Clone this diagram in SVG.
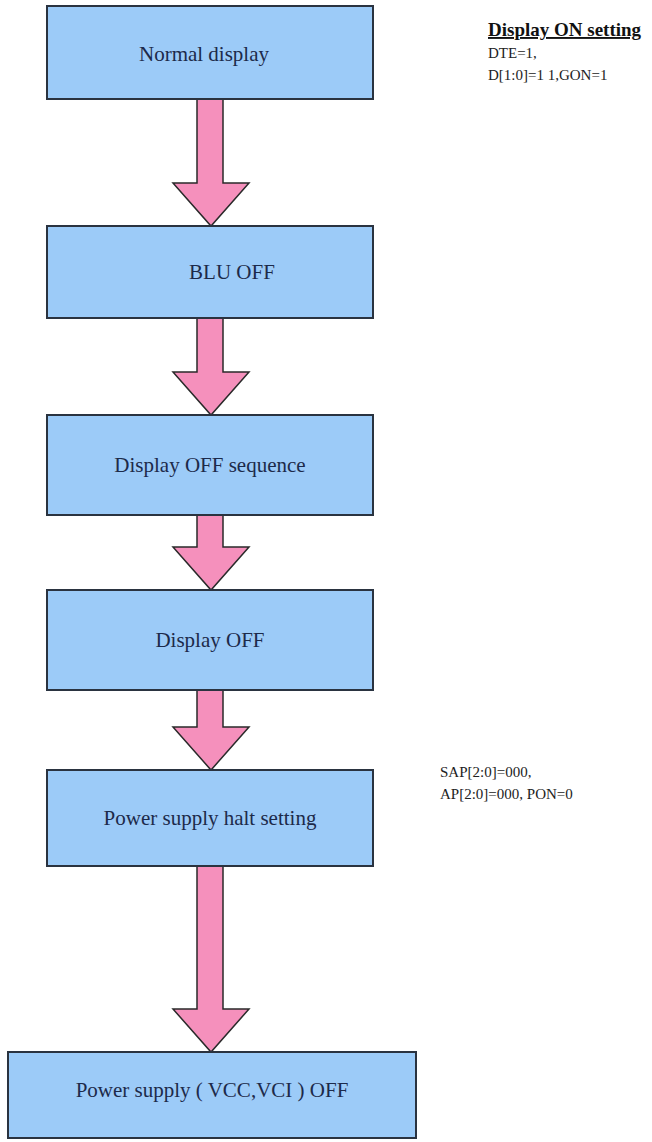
<svg xmlns="http://www.w3.org/2000/svg" width="652" height="1142" viewBox="0 0 652 1142">
<style>
.box{fill:#9ccbf8;stroke:#2a3340;stroke-width:2}
.lbl{font-family:"Liberation Serif","Times New Roman",serif;font-size:21px;fill:#1c2a4a;text-anchor:middle}
.arr{fill:#f590bc;stroke:#2a2a2a;stroke-width:1.5;stroke-linejoin:miter}
.note{font-family:"Liberation Serif","Times New Roman",serif;font-size:15px;fill:#222}
.head{font-family:"Liberation Serif","Times New Roman",serif;font-size:19px;font-weight:bold;fill:#111;text-decoration:underline}
</style>
<rect width="652" height="1142" fill="#fff"/>
<g id="connectors">
<polygon class="arr" points="197,99 223,99 223,183 249,183 211,226 173,183 197,183"/>
<polygon class="arr" points="197,318 223,318 223,372 249,372 211,415 173,372 197,372"/>
<polygon class="arr" points="197,515 223,515 223,547 249,547 211,590 173,547 197,547"/>
<polygon class="arr" points="197,690 223,690 223,727 249,727 211,770 173,727 197,727"/>
<polygon class="arr" points="197,866 223,866 223,1009 249,1009 211,1052 173,1009 197,1009"/>
</g>
<g id="n1"><rect class="box" x="47" y="6" width="326" height="93"/><text class="lbl" x="204" y="61">Normal display</text></g>
<g id="n2"><rect class="box" x="47" y="226" width="326" height="92"/><text class="lbl" x="232" y="279">BLU  OFF</text></g>
<g id="n3"><rect class="box" x="47" y="415" width="326" height="100"/><text class="lbl" x="210" y="472">Display OFF sequence</text></g>
<g id="n4"><rect class="box" x="47" y="590" width="326" height="100"/><text class="lbl" x="210" y="647">Display OFF</text></g>
<g id="n5"><rect class="box" x="47" y="770" width="326" height="96"/><text class="lbl" x="210" y="825">Power supply halt setting</text></g>
<g id="n6"><rect class="box" x="8" y="1052" width="408" height="86"/><text class="lbl" x="212" y="1097">Power supply ( VCC,VCI ) OFF</text></g>
<g id="notes">
<text class="head" x="488" y="36">Display ON setting</text>
<text class="note" x="488" y="58">DTE=1,</text>
<text class="note" x="488" y="80">D[1:0]=1 1,GON=1</text>
<text class="note" x="440" y="777">SAP[2:0]=000,</text>
<text class="note" x="440" y="799">AP[2:0]=000,  PON=0</text>
</g>
</svg>
